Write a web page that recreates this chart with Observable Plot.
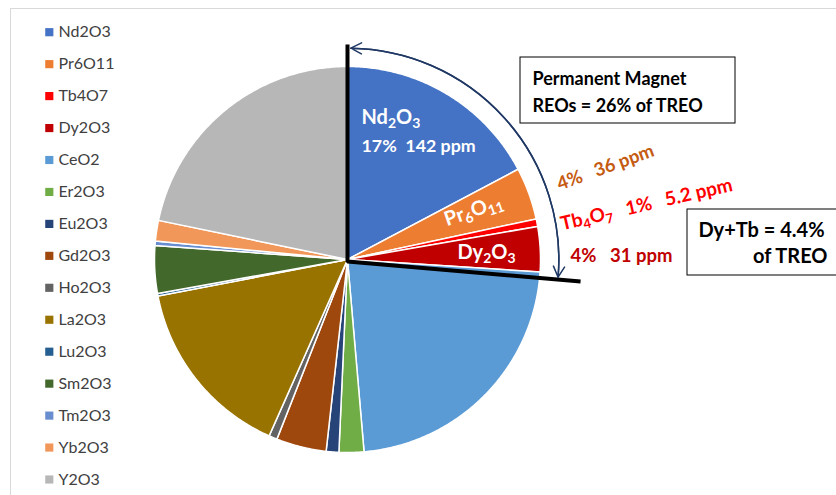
<!DOCTYPE html>
<html><head><meta charset="utf-8">
<script src="https://cdn.jsdelivr.net/npm/d3@7"></script>
<script src="https://cdn.jsdelivr.net/npm/@observablehq/plot@0.6"></script>
<style>
html,body{margin:0;padding:0;background:#fff;}
svg text{white-space:pre;}
</style></head><body><div id="chart"></div>
<script>
// ---- data ----
const oxides = ["Nd2O3","Pr6O11","Tb4O7","Dy2O3","CeO2","Er2O3","Eu2O3","Gd2O3","Ho2O3","La2O3","Lu2O3","Sm2O3","Tm2O3","Yb2O3","Y2O3"];
const ppm    = [142, 36, 5.2, 31, 186, 17.1, 8.7, 34.5, 5.7, 126, 1.8, 32.7, 3.0, 14.2, 179];
const colors = ["#4472C4","#ED7D31","#FF0000","#C00000","#5B9BD5","#70AD47","#264478","#9E480E","#636363","#997300","#255E91","#43682B","#698ED0","#F1975A","#B7B7B7"];
const ndLabels = ["Nd2O3", "17%  142 ppm"];
const prLabel = ["Pr6O11"];
const dyLabel = ["Dy2O3"];
const prValue = ["4%   36 ppm"];
const tbValue = ["Tb4O7   1%   5.2 ppm"];
const dyValue = ["4%   31 ppm"];
const magnetBox = ["Permanent Magnet", "REOs = 26% of TREO"];
const dytbBox = ["Dy+Tb = 4.4%", "of TREO"];

// ---- layout ----
const W = 836, H = 495, cx = 347, cy = 259, R = 193;
const px = x => (x - cx) / R;
const py = y => (cy - y) / R;
const deg = Math.PI / 180;

const arcs = d3.pie().sort(null).value(d => d)(ppm);
const slicePts = [];
arcs.forEach((a, i) => {
  const n = Math.max(2, Math.ceil((a.endAngle - a.startAngle) / (0.5 * deg)));
  slicePts.push({name: oxides[i], x: 0, y: 0});
  for (let k = 0; k <= n; k++) {
    const t = a.startAngle + (a.endAngle - a.startAngle) * k / n;
    slicePts.push({name: oxides[i], x: Math.sin(t), y: Math.cos(t)});
  }
});
const magnetEnd = arcs[3].endAngle;
const lineEnd = magnetEnd + 1.7 * deg;
const blackLine = [
  {x: 0, y: py(44)}, {x: 0, y: py(261)},
  {x: 1.213 * Math.sin(lineEnd), y: 1.213 * Math.cos(lineEnd)}
];
const ar = 1.095, a0 = 0.9 * deg, a1 = magnetEnd + 1.1 * deg;
const P0 = {x: ar * Math.sin(a0), y: ar * Math.cos(a0)};
const P1 = {x: ar * Math.sin(a1), y: ar * Math.cos(a1)};
const bend = (a1 - a0) / deg / 2;

const legendRows = oxides.map((name, i) => ({name, i}));
const C = v => () => v;

const svg = Plot.plot({
  width: W, height: H, margin: 0,
  x: {domain: [px(0), px(W)], axis: null},
  y: {domain: [py(H), py(0)], axis: null},
  color: {domain: oxides, range: colors},
  style: {fontFamily: "Lato, 'Open Sans', sans-serif", background: "white", overflow: "visible"},
  marks: [
    // chart area border
    Plot.ruleX([0], {x: C(px(10)), y1: C(py(8)), y2: C(py(H)), stroke: "#D9D9D9", strokeWidth: 1}),
    Plot.ruleY([0], {y: C(py(8)), x1: C(px(10)), x2: C(px(W)), stroke: "#D9D9D9", strokeWidth: 1}),
    // pie slices
    Plot.line(slicePts, {x: "x", y: "y", z: "name", fill: "name", stroke: "white", strokeWidth: 1.5, curve: "linear-closed", strokeLinejoin: "round"}),
    // magnet bracket lines
    Plot.line(blackLine, {x: "x", y: "y", stroke: "black", strokeWidth: 4, strokeLinejoin: "miter", strokeLinecap: "butt"}),
    // double-headed arc arrow
    Plot.arrow([0], {x1: C(P0.x), y1: C(P0.y), x2: C(P1.x), y2: C(P1.y), bend: bend, stroke: "#1F3864", strokeWidth: 1.5, headLength: 12, headAngle: 55}),
    Plot.arrow([0], {x1: C(P1.x), y1: C(P1.y), x2: C(P0.x), y2: C(P0.y), bend: -bend, stroke: "#1F3864", strokeWidth: 1.5, headLength: 12, headAngle: 55}),
    // inside labels
    Plot.text([ndLabels[0]], {x: C(px(361)), y: C(py(117)), text: d => d, textAnchor: "start", fill: "white", fontWeight: "bold", fontSize: 20, className: "formula"}),
    Plot.text([ndLabels[1]], {x: C(px(361)), y: C(py(146)), text: d => d, textAnchor: "start", fill: "white", fontWeight: "bold", fontSize: 17.8}),
    Plot.text(prLabel, {x: C(px(473)), y: C(py(210)), text: d => d, rotate: -19, fill: "white", fontWeight: "bold", fontSize: 20, className: "formula"}),
    Plot.text(dyLabel, {x: C(px(486)), y: C(py(252)), text: d => d, fill: "white", fontWeight: "bold", fontSize: 20, className: "formula"}),
    // outside value labels
    Plot.text(prValue, {x: C(px(605)), y: C(py(167)), text: d => d, rotate: -20, fill: "#C55A11", fontWeight: "bold", fontSize: 18.5}),
    Plot.text(tbValue, {x: C(px(646)), y: C(py(204)), text: d => d, rotate: -13, fill: "#FF0000", fontWeight: "bold", fontSize: 19, className: "formula"}),
    Plot.text(dyValue, {x: C(px(621)), y: C(py(256)), text: d => d, fill: "#C00000", fontWeight: "bold", fontSize: 18.5}),
    // boxes
    Plot.rect([0], {x1: C(px(520)), x2: C(px(735)), y1: C(py(57)), y2: C(py(123)), fill: "white", stroke: "black", strokeWidth: 1}),
    Plot.text([magnetBox[0]], {x: C(px(532)), y: C(py(79)), text: d => d, textAnchor: "start", fill: "black", fontWeight: "bold", fontSize: 18}),
    Plot.text([magnetBox[1]], {x: C(px(532)), y: C(py(106)), text: d => d, textAnchor: "start", fill: "black", fontWeight: "bold", fontSize: 18}),
    Plot.rect([0], {x1: C(px(687)), x2: C(px(W + 5)), y1: C(py(209)), y2: C(py(275)), fill: "white", stroke: "black", strokeWidth: 1}),
    Plot.text([dytbBox[0]], {x: C(px(698)), y: C(py(230)), text: d => d, textAnchor: "start", fill: "black", fontWeight: "bold", fontSize: 20}),
    Plot.text([dytbBox[1]], {x: C(px(827)), y: C(py(256)), text: d => d, textAnchor: "end", fill: "black", fontWeight: "bold", fontSize: 20}),
    // legend
    Plot.dot(legendRows, {x: C(px(48.8)), y: d => py(31.7 + d.i * 31.95), fill: "name", symbol: "square", r: 4.6, stroke: null}),
    Plot.text(legendRows, {x: C(px(58)), y: d => py(31.7 + d.i * 31.95), text: "name", textAnchor: "start", fill: "#404040", fontSize: 16})
  ]
});

// subscripts for chemical formulas (digits directly following a letter)
svg.querySelectorAll("g.formula text").forEach(t => {
  const s = t.textContent;
  const ns = "http://www.w3.org/2000/svg";
  t.textContent = "";
  let last = 0, shifted = false;
  const re = /\d+/g;
  let m;
  const add = (str, attrs) => {
    const ts = document.createElementNS(ns, "tspan");
    ts.textContent = str;
    for (const k in attrs) ts.setAttribute(k, attrs[k]);
    t.appendChild(ts);
  };
  while ((m = re.exec(s))) {
    if (m.index > 0 && /[A-Za-z]/.test(s[m.index - 1])) {
      add(s.slice(last, m.index), shifted ? {dy: "-0.2em"} : {});
      add(m[0], {"font-size": "70%", dy: "0.286em"});
      shifted = true;
      last = m.index + m[0].length;
    }
  }
  if (last < s.length) add(s.slice(last), shifted ? {dy: "-0.2em"} : {});
});

document.getElementById("chart").appendChild(svg);
</script>
</body></html>
